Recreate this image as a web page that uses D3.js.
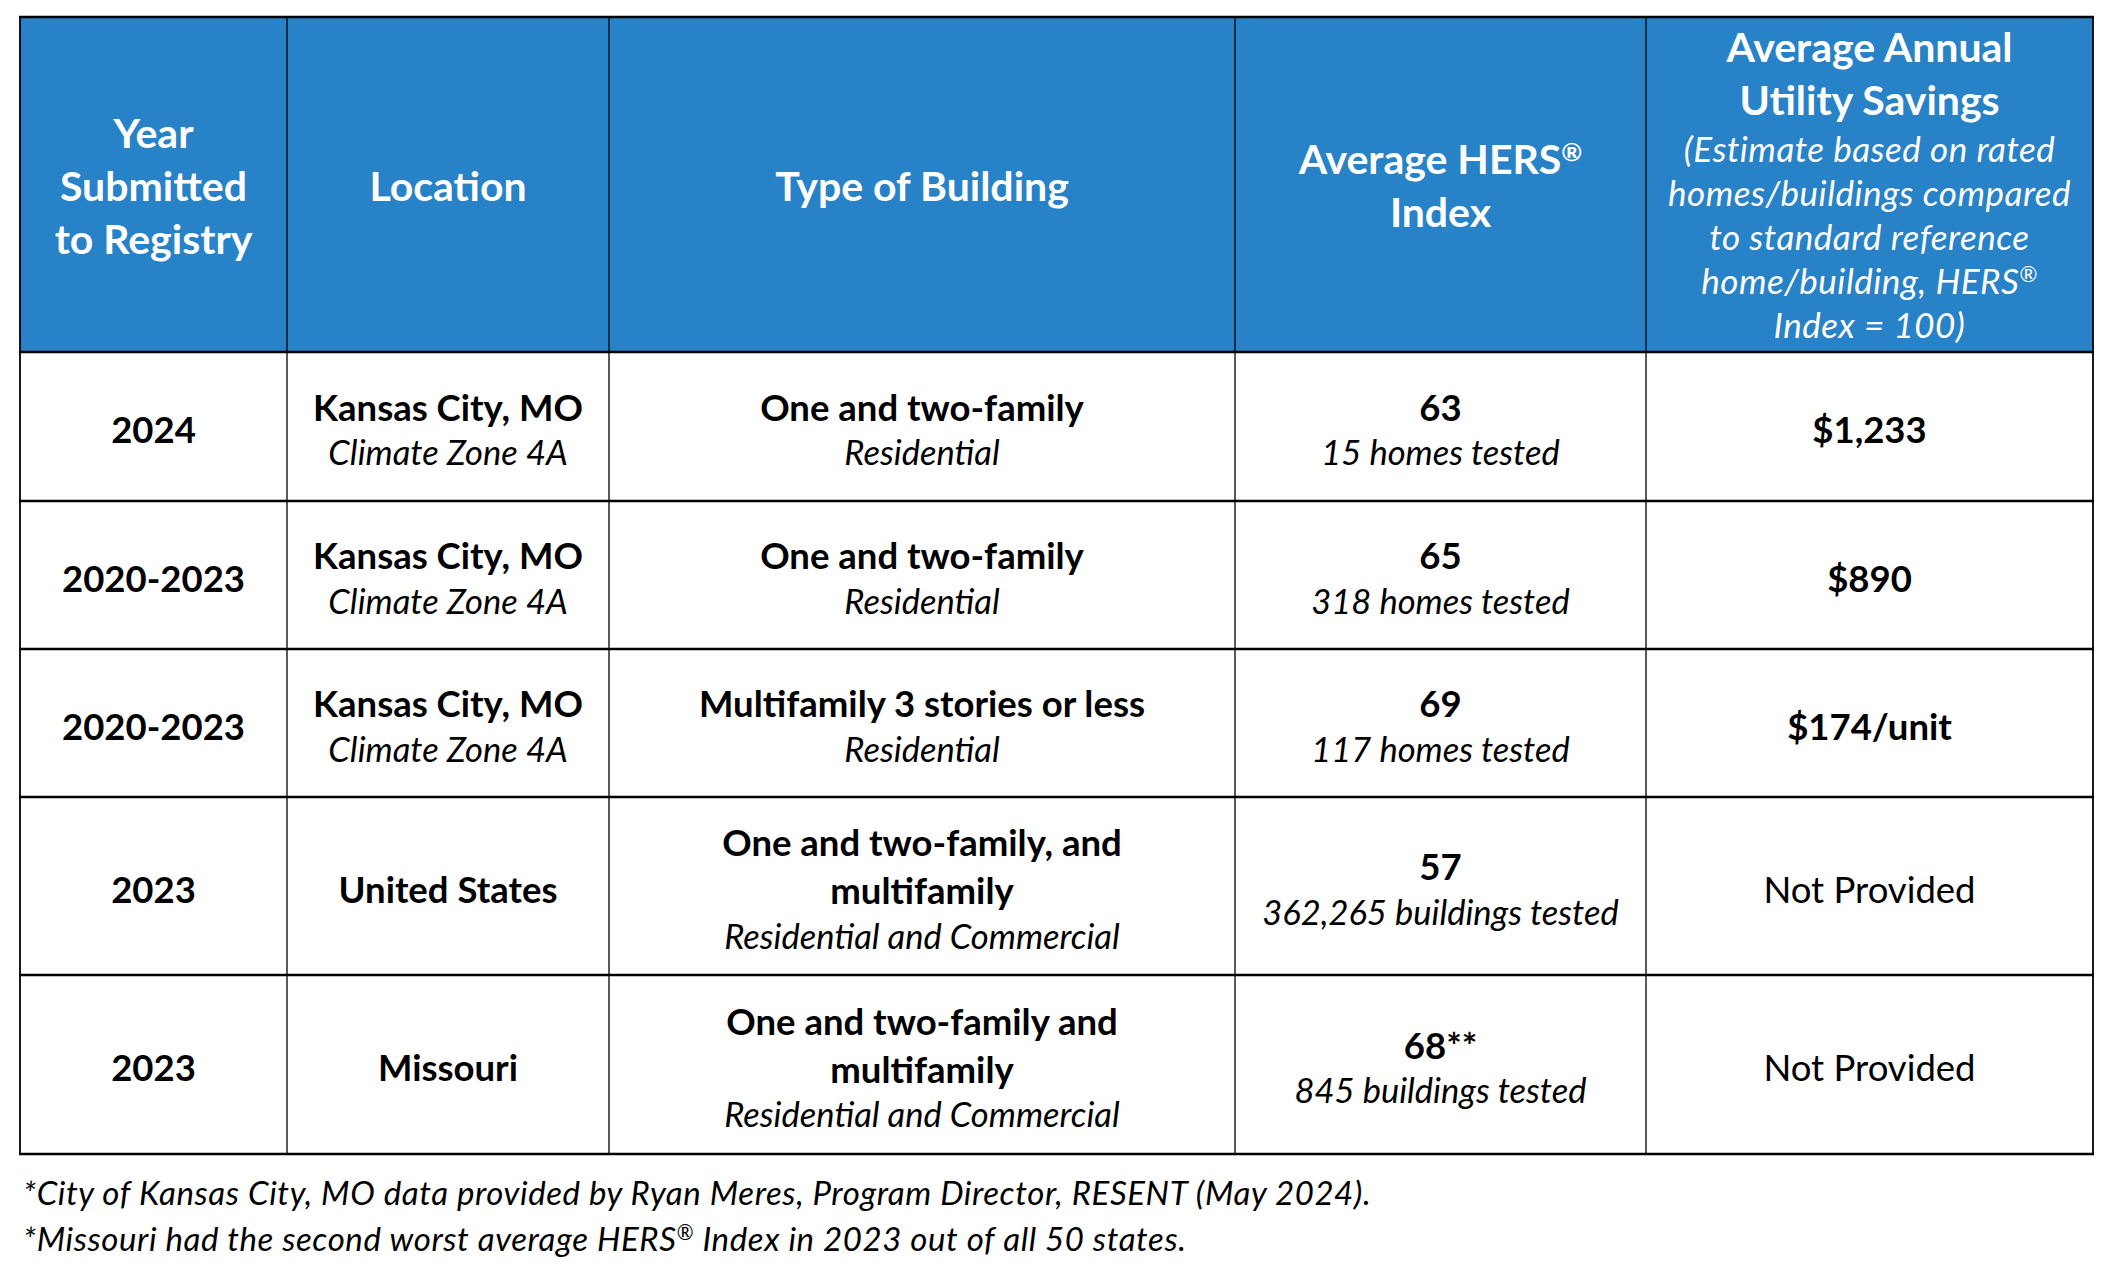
<!DOCTYPE html>
<html>
<head>
<meta charset="utf-8">
<script src="https://cdn.jsdelivr.net/npm/d3@7"></script>
<style>
  body { margin: 0; background: #fff; }
  svg { display: block; font-family: Lato, "Open Sans", sans-serif; }
</style>
</head>
<body>
<div id="chart"></div>
<script>
// table content
const headers = [
    [{ t: "Year", s: "hb" }, { t: "Submitted", s: "hb" }, { t: "to Registry", s: "hb" }],
    [{ t: "Location", s: "hb" }],
    [{ t: "Type of Building", s: "hb" }],
    [{ t: "Average HERS®", s: "hb" }, { t: "Index", s: "hb" }],
    [{ t: "Average Annual", s: "hb" }, { t: "Utility Savings", s: "hb" },
     { t: "(Estimate based on rated", s: "hi" }, { t: "homes/buildings compared", s: "hi" },
     { t: "to standard reference", s: "hi" }, { t: "home/building, HERS®", s: "hi" },
     { t: "Index = 100)", s: "hi" }]
];

const years = ["2024", "2020-2023", "2020-2023", "2023", "2023"];
const locations = ["Kansas City, MO", "Kansas City, MO", "Kansas City, MO", "United States", "Missouri"];
const climateZones = ["Climate Zone 4A", "Climate Zone 4A", "Climate Zone 4A", null, null];
const buildingTypes = [
    ["One and two-family"],
    ["One and two-family"],
    ["Multifamily 3 stories or less"],
    ["One and two-family, and", "multifamily"],
    ["One and two-family and", "multifamily"]
];
const buildingSectors = ["Residential", "Residential", "Residential",
    "Residential and Commercial", "Residential and Commercial"];
const hersIndex = ["63", "65", "69", "57", "68**"];
const buildingsTested = ["15 homes tested", "318 homes tested", "117 homes tested",
    "362,265 buildings tested", "845 buildings tested"];
const savings = ["$1,233", "$890", "$174/unit", "Not Provided", "Not Provided"];

const footnotes = [
    "*City of Kansas City, MO data provided by Ryan Meres, Program Director, RESENT (May 2024).",
    "*Missouri had the second worst average HERS® Index in 2023 out of all 50 states."
];

function init() {
    var w = 2112, h = 1270;
    var headerColor = "#2882c7";

    // column and row boundaries of the table
    var colEdges = [20, 287, 609, 1235, 1646, 2093];
    var rowEdges = [17, 352, 501, 649, 797, 975, 1154];

    var styles = {
        hb: { size: 41, weight: 700, italic: false, lh: 53, fill: "#fff", ls: 0 },
        hi: { size: 35, weight: 400, italic: true, lh: 44, fill: "#fff", ls: 0.5 },
        b:  { size: 36.5, weight: 700, italic: false, lh: 48, fill: "#000", ls: 0 },
        i:  { size: 34.5, weight: 400, italic: true, lh: 43, fill: "#000", ls: 0 },
        r:  { size: 36.5, weight: 400, italic: false, lh: 48, fill: "#000", ls: 0 }
    };

    var svg = d3.select("#chart").append("svg")
        .attr("width", w)
        .attr("height", h);

    var x = d3.scaleOrdinal().domain(d3.range(5)).range(colEdges.slice(0, 5));
    var xEnd = d3.scaleOrdinal().domain(d3.range(5)).range(colEdges.slice(1));
    var y = d3.scaleOrdinal().domain(d3.range(6)).range(rowEdges.slice(0, 6));
    var yEnd = d3.scaleOrdinal().domain(d3.range(6)).range(rowEdges.slice(1));

    // body cells as lists of lines
    var rows = years.map(function (yr, i) {
        var loc = [{ t: locations[i], s: "b" }];
        if (climateZones[i]) loc.push({ t: climateZones[i], s: "i" });
        var type = buildingTypes[i].map(function (t) { return { t: t, s: "b" }; });
        type.push({ t: buildingSectors[i], s: "i" });
        return [
            [{ t: yr, s: "b" }],
            loc,
            type,
            [{ t: hersIndex[i], s: "b" }, { t: buildingsTested[i], s: "i" }],
            [{ t: savings[i], s: savings[i] === "Not Provided" ? "r" : "b" }]
        ];
    });
    var table = [headers].concat(rows);

    var cells = [];
    table.forEach(function (row, ri) {
        row.forEach(function (lines, ci) {
            cells.push({ ri: ri, ci: ci, lines: lines });
        });
    });

    // header background
    svg.append("rect")
        .attr("x", colEdges[0]).attr("y", y(0))
        .attr("width", colEdges[5] - colEdges[0])
        .attr("height", yEnd(0) - y(0))
        .attr("fill", headerColor);

    // text
    var cellG = svg.selectAll("g.cell").data(cells).join("g").attr("class", "cell");
    cellG.each(function (d) {
        var g = d3.select(this);
        var cx = (x(d.ci) + xEnd(d.ci)) / 2;
        var cy = (y(d.ri) + yEnd(d.ri)) / 2 + (d.ri === 0 ? 2 : 4);
        var offs = [0];
        for (var k = 1; k < d.lines.length; k++) {
            offs.push(offs[k - 1] + (styles[d.lines[k - 1].s].lh + styles[d.lines[k].s].lh) / 2);
        }
        var mid = offs[offs.length - 1] / 2;
        d.lines.forEach(function (ln, k) {
            var st = styles[ln.s];
            var t = g.append("text")
                .attr("x", cx)
                .attr("y", cy + offs[k] - mid + st.size * 0.35)
                .attr("text-anchor", "middle")
                .attr("font-size", st.size)
                .attr("font-weight", st.weight)
                .attr("font-style", st.italic ? "italic" : "normal")
                .attr("letter-spacing", st.ls)
                .attr("fill", st.fill);
            addText(t, ln.t, st.size);
        });
    });

    function addText(t, str, size) {
        var parts = str.split("®");
        parts.forEach(function (p, k) {
            if (k > 0) {
                t.append("tspan").attr("font-size", size * 0.62).attr("dy", -size * 0.32).text("®");
                t.append("tspan").attr("dy", size * 0.32).text(p);
            } else {
                t.append("tspan").text(p);
            }
        });
    }

    // grid lines
    var inner = colEdges.slice(1, 5);
    svg.selectAll("line.v").data(inner).join("line").attr("class", "v")
        .attr("x1", function (d) { return d; }).attr("x2", function (d) { return d; })
        .attr("y1", rowEdges[0]).attr("y2", rowEdges[6])
        .attr("stroke", "#000").attr("stroke-width", 1.3);
    svg.selectAll("line.edge").data([colEdges[0], colEdges[5]]).join("line").attr("class", "edge")
        .attr("x1", function (d) { return d; }).attr("x2", function (d) { return d; })
        .attr("y1", rowEdges[0]).attr("y2", rowEdges[6])
        .attr("stroke", "#000").attr("stroke-width", 1.8);
    svg.selectAll("line.h").data(rowEdges).join("line").attr("class", "h")
        .attr("x1", colEdges[0] - 1).attr("x2", colEdges[5] + 1)
        .attr("y1", function (d) { return d; }).attr("y2", function (d) { return d; })
        .attr("stroke", "#000").attr("stroke-width", 2.5);

    // footnotes
    svg.selectAll("text.note").data(footnotes).join("text").attr("class", "note")
        .attr("x", 23)
        .attr("y", function (d, i) { return 1205 + i * 46; })
        .attr("font-size", 33)
        .attr("font-style", "italic")
        .attr("letter-spacing", 0.6)
        .attr("fill", "#000")
        .each(function (d) { addText(d3.select(this), d, 33); });
}

window.onload = init;
</script>
</body>
</html>
